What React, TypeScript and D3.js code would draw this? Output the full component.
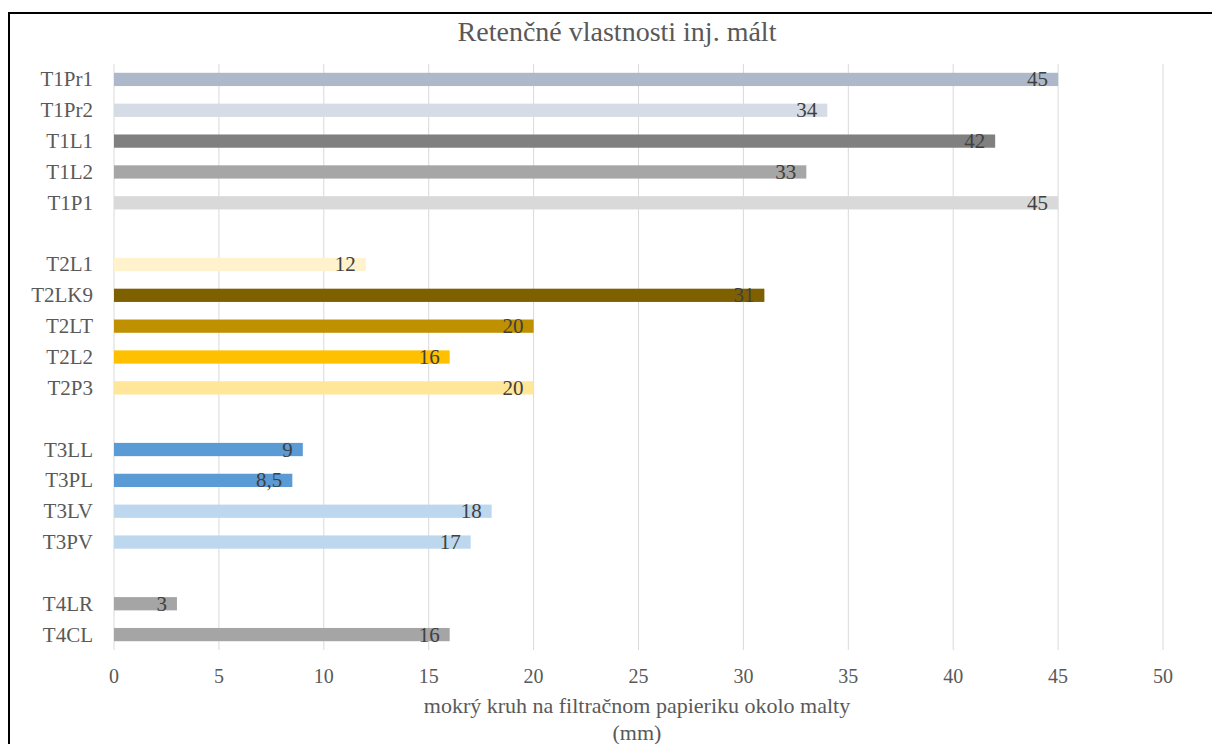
import React from "react";
import * as d3 from "d3";

// Retention of injection mortars: wet ring on filter paper (mm)
const categories = [
  "T1Pr1", "T1Pr2", "T1L1", "T1L2", "T1P1",
  "T2L1", "T2LK9", "T2LT", "T2L2", "T2P3",
  "T3LL", "T3PL", "T3LV", "T3PV",
  "T4LR", "T4CL",
];
const values = [45, 34, 42, 33, 45, 12, 31, 20, 16, 20, 9, 8.5, 18, 17, 3, 16];
const barColors = [
  "#ADB9CA", "#D6DCE5", "#808080", "#A6A6A6", "#D9D9D9",
  "#FFF2CC", "#7F6000", "#BF9000", "#FFC000", "#FFE699",
  "#5B9BD5", "#5B9BD5", "#BDD7EE", "#BDD7EE",
  "#A5A5A5", "#A5A5A5",
];
// Empty rows separating the groups
const gapsAfter = ["T1P1", "T2P3", "T3PV"];
const xTicks = [0, 5, 10, 15, 20, 25, 30, 35, 40, 45, 50];

const title = "Retenčné vlastnosti inj. mált";
const axisTitle = ["mokrý kruh na filtračnom papieriku okolo malty", "(mm)"];

const W = 1212;
const H = 744;
const left = 114;
const right = 1163;
const top = 64;
const bottom = 650;
const FONT = "'Liberation Serif', 'Times New Roman', serif";

export default function App() {
  // build row slots, inserting gap rows between groups
  const slots: string[] = [];
  categories.forEach((c, i) => {
    slots.push(c);
    if (gapsAfter.includes(c)) slots.push(`gap${i}`);
  });

  const x = d3.scaleLinear().domain([0, 50]).range([left, right]);
  const y = d3.scaleBand<string>().domain(slots).range([top, bottom]).paddingInner(0).paddingOuter(0);
  const barH = y.bandwidth() * 0.43;
  const fmt = (v: number) => String(v).replace(".", ",");

  return (
    <svg
      width={W}
      height={H}
      style={{ position: "absolute", left: 0, top: 0, background: "#fff" }}
      fontFamily={FONT}
    >
      <rect x={0} y={0} width={W} height={H} fill="#fff" />
      <rect x={9} y={13} width={1230} height={760} fill="none" stroke="#000" strokeWidth={2} />

      <text x={617} y={41} textAnchor="middle" fontSize={28} fill="#595959">
        {title}
      </text>

      {/* vertical gridlines */}
      {xTicks.map((t) => (
        <line key={t} x1={x(t)} x2={x(t)} y1={top} y2={bottom} stroke="#D9D9D9" strokeWidth={1} />
      ))}

      {/* bars */}
      {categories.map((c, i) => {
        const cy = (y(c) as number) + y.bandwidth() / 2;
        return (
          <rect
            key={c}
            x={x(0)}
            y={cy - barH / 2}
            width={x(values[i]) - x(0)}
            height={barH}
            fill={barColors[i]}
          />
        );
      })}

      {/* data labels */}
      {categories.map((c, i) => {
        const cy = (y(c) as number) + y.bandwidth() / 2;
        return (
          <text
            key={`l-${c}`}
            x={x(values[i]) - 10}
            y={cy + 7}
            textAnchor="end"
            fontSize={21}
            fill="#404040"
          >
            {fmt(values[i])}
          </text>
        );
      })}

      {/* category labels */}
      {categories.map((c) => {
        const cy = (y(c) as number) + y.bandwidth() / 2;
        return (
          <text key={`c-${c}`} x={93} y={cy + 7} textAnchor="end" fontSize={21} fill="#595959">
            {c}
          </text>
        );
      })}

      {/* x tick labels */}
      {xTicks.map((t) => (
        <text key={`t-${t}`} x={x(t)} y={683} textAnchor="middle" fontSize={20} fill="#595959">
          {t}
        </text>
      ))}

      {/* axis title */}
      {axisTitle.map((s, i) => (
        <text key={s} x={637} y={713 + i * 27} textAnchor="middle" fontSize={22} fill="#595959">
          {s}
        </text>
      ))}
    </svg>
  );
}
